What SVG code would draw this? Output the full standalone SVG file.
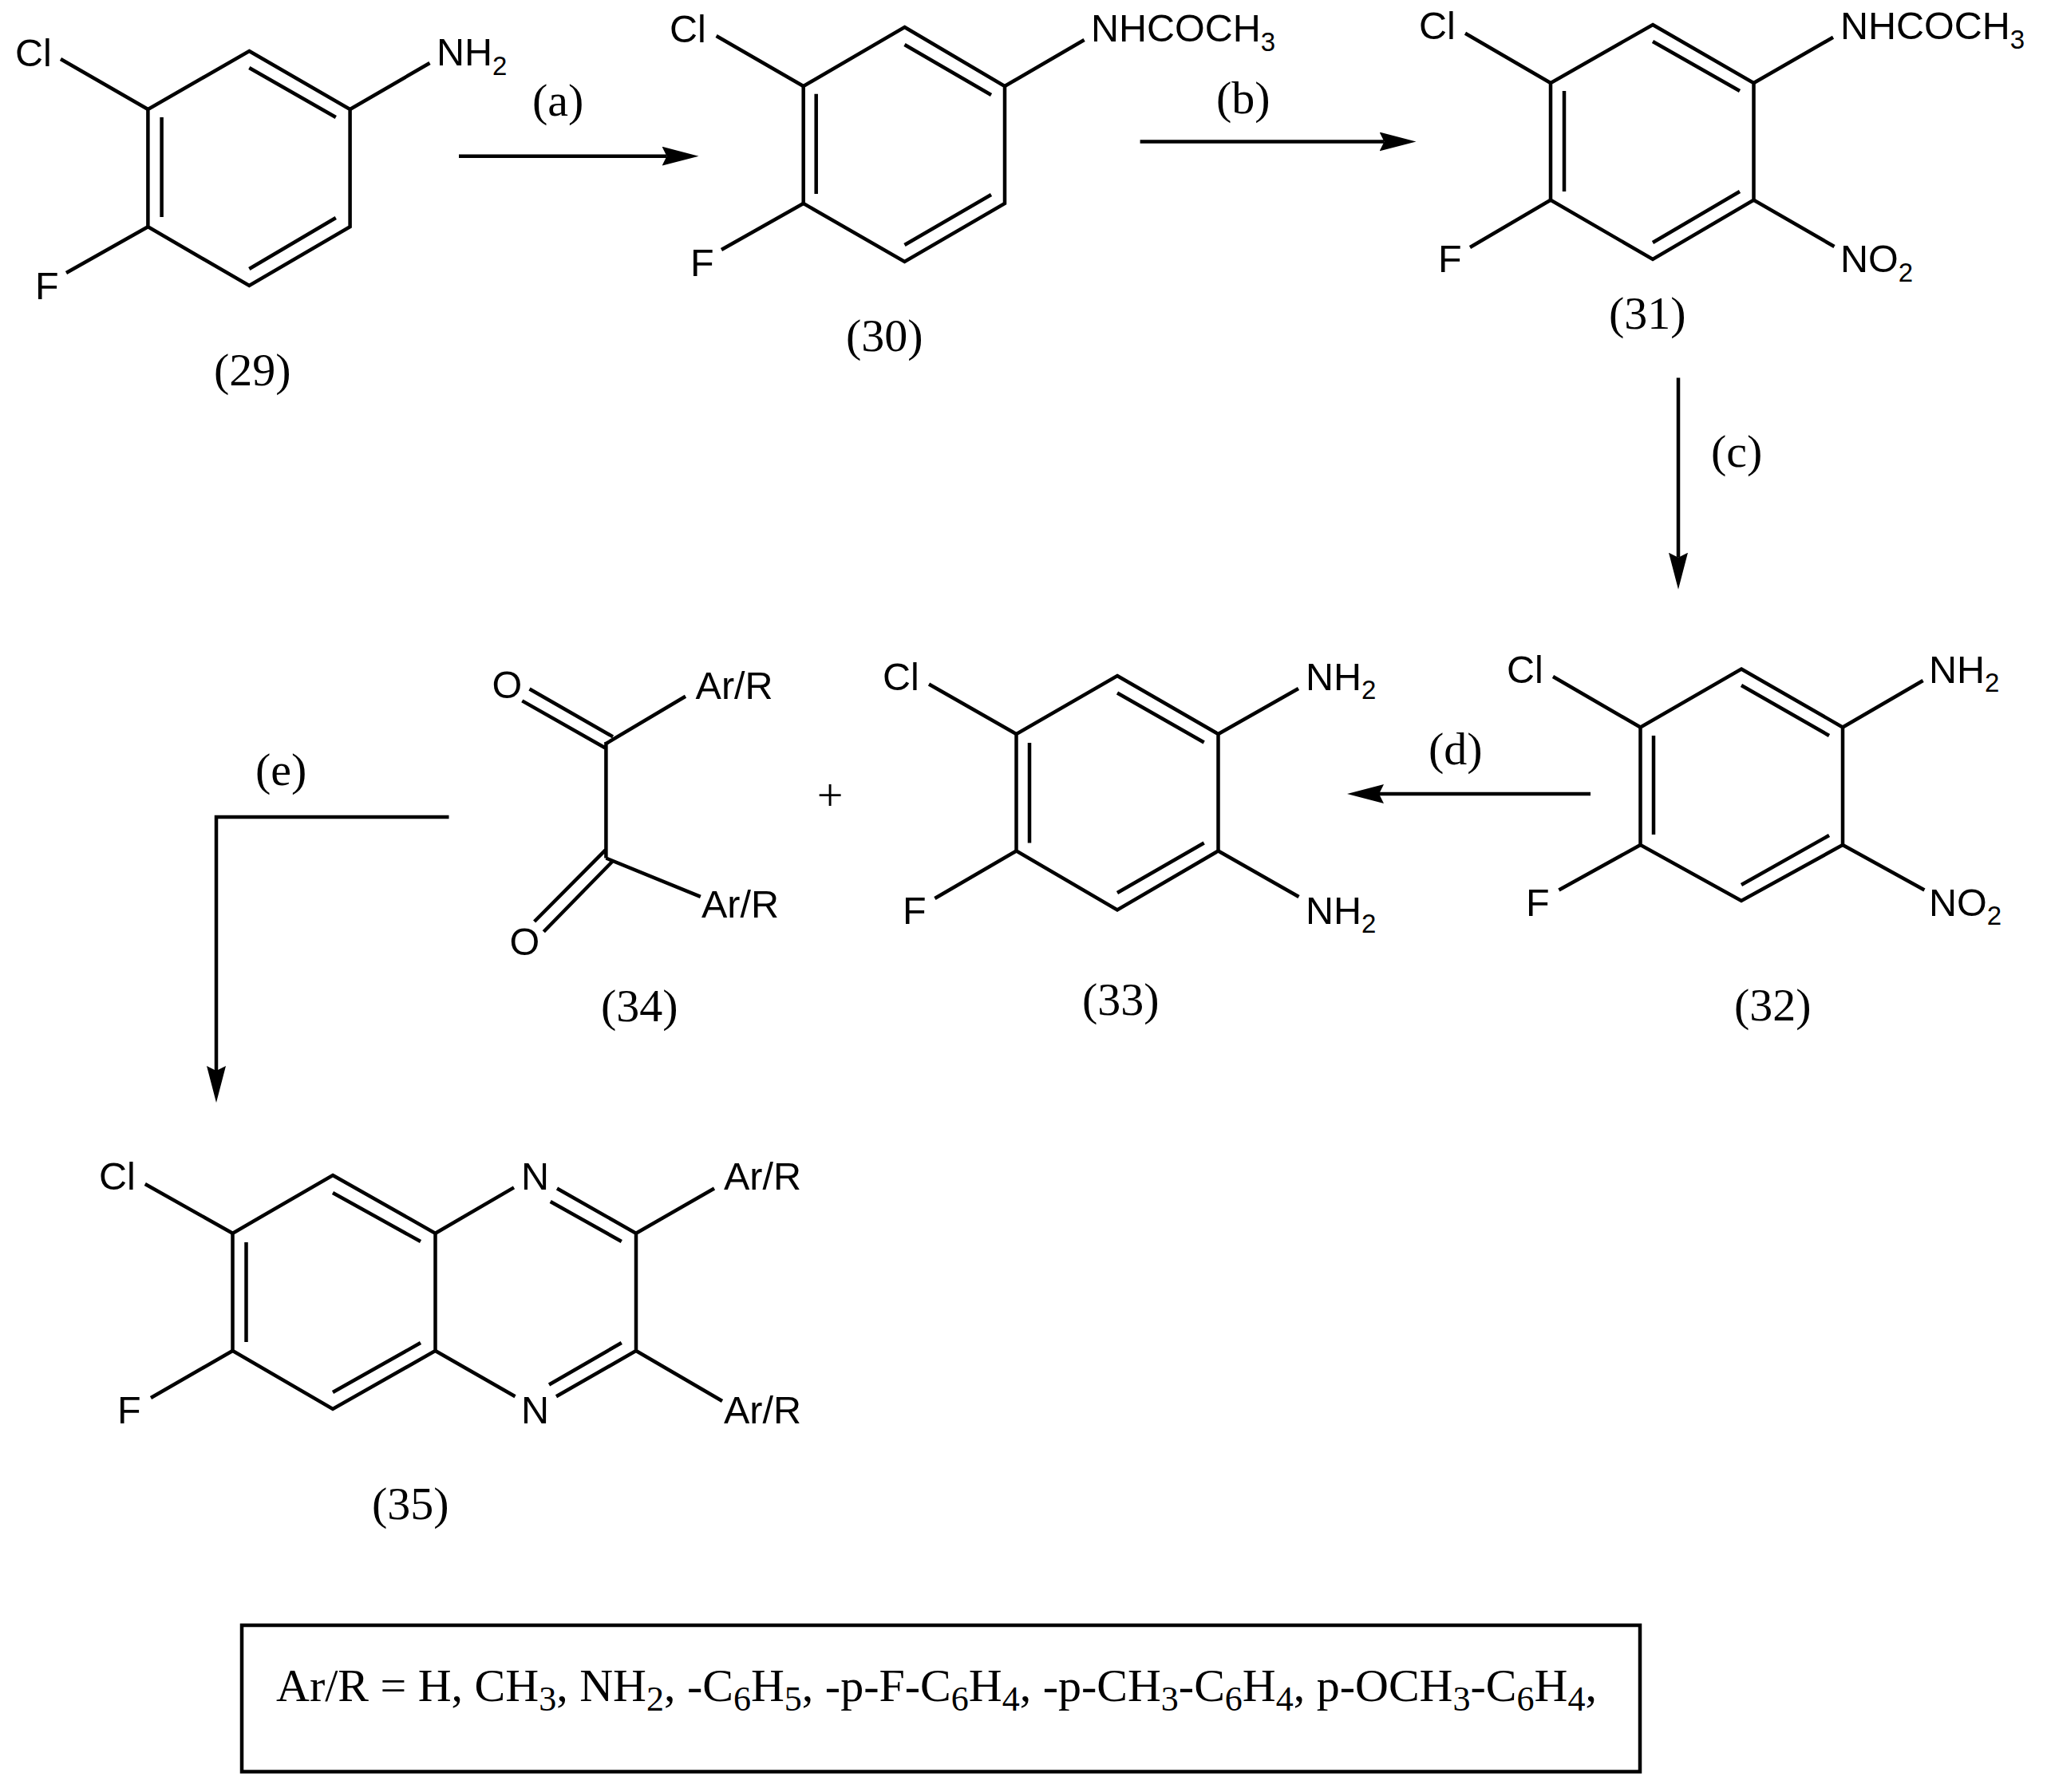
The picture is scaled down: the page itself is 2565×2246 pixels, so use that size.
<svg xmlns="http://www.w3.org/2000/svg" width="2565" height="2246" viewBox="0 0 2565 2246">
<style>
.b{fill:none;stroke:#000;stroke-width:4.5;stroke-linecap:butt;stroke-linejoin:miter}
.a{font-family:"Liberation Sans",Arial,sans-serif;font-size:48.5px;fill:#000}
.a tspan{font-size:33px}
.t{font-family:"Liberation Serif","Times New Roman",serif;font-size:58px;fill:#000}
.t .s{font-size:44px}
.c{fill:none;stroke:#000;stroke-width:4.5}
</style>
<defs>
<marker id="h" markerUnits="userSpaceOnUse" viewBox="0 0 46 24" markerWidth="46" markerHeight="24" refX="6" refY="12" orient="auto"><path d="M0 0L46 12L0 24L6 12Z" fill="#000"/></marker>
</defs>
<rect width="2565" height="2246" fill="#fff"/>
<g id="connectors">
<path class="c" marker-end="url(#h)" d="M575 195.7H835.5"/>
<path class="c" marker-end="url(#h)" d="M1428.6 177.5H1734.5"/>
<path class="c" marker-end="url(#h)" d="M2103 473.5V698.7"/>
<path class="c" marker-end="url(#h)" d="M1993 995H1728"/>
<path class="c" marker-end="url(#h)" d="M562.5 1024H271V1342"/>
<text class="t" x="667" y="145">(a)</text>
<text class="t" x="1524" y="142">(b)</text>
<text class="t" x="2144" y="585">(c)</text>
<text class="t" x="1790" y="958">(d)</text>
<text class="t" x="320" y="984">(e)</text>
</g>
<g id="n29">
<path class="b" d="M312.3 64L438.6 137V284.3L312.3 358L185.4 284.3V137Z"/>
<path class="b" d="M202.6 147V272M312.3 85L420.8 147M312.3 337L420.8 273M76 74L185.4 137M538.5 79L438.6 137M83 342L185.4 284.3"/>
<text class="a" x="19" y="83">Cl</text>
<text class="a" x="547" y="82">NH<tspan dy="12">2</tspan></text>
<text class="a" x="44" y="375">F</text>
<text class="t" x="268" y="483">(29)</text>
</g>
<g id="n30">
<path class="b" d="M1133.5 34L1259 108V255L1133.5 328L1006.7 255V108Z"/>
<path class="b" d="M1022.7 117.7V243M1133.5 56L1242 119M1133.5 307L1242 244M897.6 45L1006.7 108M1358.6 50L1259 108M904 313L1006.7 255"/>
<text class="a" x="839" y="53">Cl</text>
<text class="a" x="1367" y="52">NHCOCH<tspan dy="12">3</tspan></text>
<text class="a" x="865" y="346">F</text>
<text class="t" x="1060" y="440">(30)</text>
</g>
<g id="n31">
<path class="b" d="M2071 31L2197.5 104V250.7L2071 325L1943 250.7V104Z"/>
<path class="b" d="M1960 114V240M2071 52L2180 114M2071 304L2180 240M1836 41.7L1943 104M2297 46.7L2197.5 104M1842 310L1943 250.7M2298.5 309L2197.5 250.7"/>
<text class="a" x="1778" y="49">Cl</text>
<text class="a" x="2306" y="49">NHCOCH<tspan dy="12">3</tspan></text>
<text class="a" x="1802" y="341">F</text>
<text class="a" x="2306" y="341">NO<tspan dy="12">2</tspan></text>
<text class="t" x="2016" y="412">(31)</text>
</g>
<g id="n32">
<path class="b" d="M2182 838.5L2309 911.5V1059L2182 1129L2055.5 1059V911.5Z"/>
<path class="b" d="M2072 922V1046M2182 859L2292 922M2182 1109L2292 1047M1946 848L2055.5 911.5M2409.6 853L2309 911.5M1953.4 1115.5L2055.5 1059M2411.4 1115.5L2309 1059"/>
<text class="a" x="1888" y="856">Cl</text>
<text class="a" x="2417" y="856">NH<tspan dy="11">2</tspan></text>
<text class="a" x="1912" y="1148">F</text>
<text class="a" x="2417" y="1148">NO<tspan dy="11">2</tspan></text>
<text class="t" x="2173" y="1279">(32)</text>
</g>
<g id="n33">
<path class="b" d="M1400 847L1526.5 920V1066.5L1400 1140.5L1273.5 1066.5V920Z"/>
<path class="b" d="M1290 931V1056.5M1400 868.5L1508.7 930.5M1400 1119L1508.7 1056.5M1164 857.5L1273.5 920M1627 863L1526.5 920M1171.4 1126L1273.5 1066.5M1627.5 1124L1526.5 1066.5"/>
<text class="a" x="1106" y="865">Cl</text>
<text class="a" x="1636" y="865">NH<tspan dy="11">2</tspan></text>
<text class="a" x="1636" y="1158">NH<tspan dy="11">2</tspan></text>
<text class="a" x="1131" y="1158">F</text>
<text class="t" x="1356" y="1272">(33)</text>
</g>
<g id="plus"><text class="t" x="1040" y="1016" text-anchor="middle">+</text></g>
<g id="n34">
<path class="b" d="M759.4 930V1075.5M759.4 932L859 872.7M663.5 863.5L768 923.4M654.3 878.4L759.4 938M759.4 1075.5L877.8 1123.9M759.4 1064.7L669.6 1155M768 1079L681.3 1167.8"/>
<text class="a" x="616.5" y="875">O</text>
<text class="a" x="871.6" y="876">Ar/R</text>
<text class="a" x="879" y="1150">Ar/R</text>
<text class="a" x="638.5" y="1197">O</text>
<text class="t" x="753" y="1280">(34)</text>
</g>
<g id="n35">
<path class="b" d="M417 1473L545.5 1545.7V1693L417 1766L291.5 1693V1545.7Z"/>
<path class="b" d="M308.5 1557V1682M417 1495L527 1556M417 1745L527 1683M545.5 1545.7L644 1488.4M698 1489.5L797 1545.7V1693L697 1750.3M689.7 1506L778.8 1556M688 1735.5L778.8 1683M545.5 1693L645.5 1750.3M797 1545.7L895 1489.5M797 1693L905 1756M181.8 1484L291.5 1545.7M189 1752L291.5 1693"/>
<text class="a" x="124" y="1490.6">Cl</text>
<text class="a" x="653" y="1491">N</text>
<text class="a" x="907" y="1491">Ar/R</text>
<text class="a" x="653" y="1784">N</text>
<text class="a" x="907" y="1784">Ar/R</text>
<text class="a" x="147" y="1784">F</text>
<text class="t" x="466" y="1904">(35)</text>
</g>
<g id="legend">
<rect class="b" x="303" y="2037" width="1752" height="183.5"/>
<text class="t" x="346" y="2132">Ar/R = H, CH<tspan class="s" dy="12">3</tspan><tspan dy="-12">, NH</tspan><tspan class="s" dy="12">2</tspan><tspan dy="-12">, -C</tspan><tspan class="s" dy="12">6</tspan><tspan dy="-12">H</tspan><tspan class="s" dy="12">5</tspan><tspan dy="-12">, -p-F-C</tspan><tspan class="s" dy="12">6</tspan><tspan dy="-12">H</tspan><tspan class="s" dy="12">4</tspan><tspan dy="-12">, -p-CH</tspan><tspan class="s" dy="12">3</tspan><tspan dy="-12">-C</tspan><tspan class="s" dy="12">6</tspan><tspan dy="-12">H</tspan><tspan class="s" dy="12">4</tspan><tspan dy="-12">, p-OCH</tspan><tspan class="s" dy="12">3</tspan><tspan dy="-12">-C</tspan><tspan class="s" dy="12">6</tspan><tspan dy="-12">H</tspan><tspan class="s" dy="12">4</tspan><tspan dy="-12">,</tspan></text>
</g>
</svg>
